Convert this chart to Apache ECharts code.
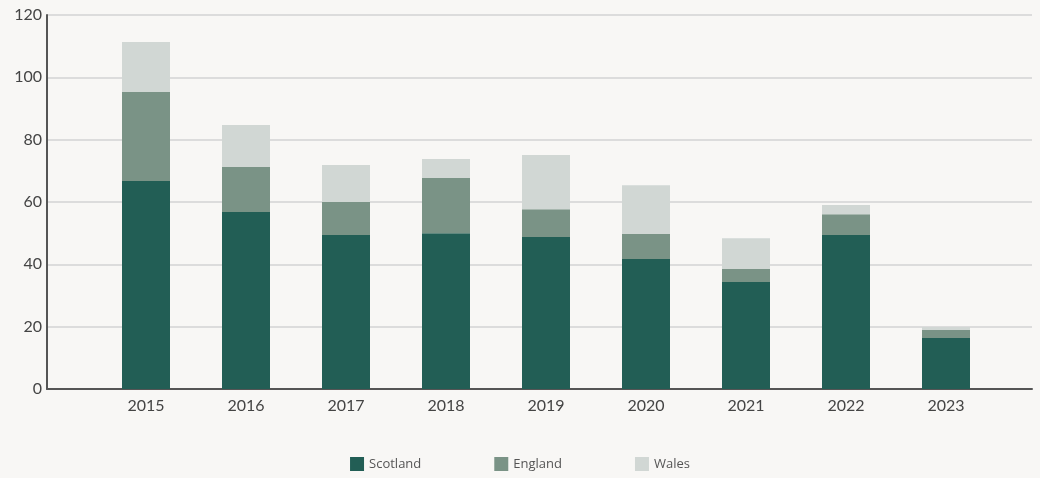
<!DOCTYPE html>
<html>
<head>
<meta charset="utf-8">
<script src="https://cdn.jsdelivr.net/npm/echarts@6/dist/echarts.min.js"></script>
<style>
  html, body { margin: 0; padding: 0; background: #f8f7f5; }
  #chart { width: 1040px; height: 478px; }
</style>
</head>
<body>
<div id="chart"></div>
<script>
// years on the x axis
var years = ['2015', '2016', '2017', '2018', '2019', '2020', '2021', '2022', '2023']
// stacked segments
var scotland = [66.7, 56.8, 49.4, 50.0, 48.8, 41.7, 34.3, 49.4, 16.4]
var england = [28.6, 14.4, 10.6, 17.7, 8.9, 8.0, 4.2, 6.7, 2.5]
var wales = [16.0, 13.5, 11.9, 6.1, 17.4, 15.7, 9.9, 2.9, 1.0]
var yTicks = [0, 20, 40, 60, 80, 100, 120]

var chart = echarts.init(document.getElementById('chart'))
var font = 'Lato, "Open Sans", sans-serif'

var option = {
  backgroundColor: '#f8f7f5',
  animation: false,
  textStyle: { fontFamily: font },
  legend: {
    bottom: 2,
    left: 'center',
    itemWidth: 14,
    itemHeight: 14,
    itemGap: 73,
    icon: 'rect',
    textStyle: { color: '#555', fontSize: 13, fontFamily: '"Open Sans", sans-serif' },
    data: ['Scotland', 'England', 'Wales']
  },
  grid: [
    // frame: axis lines + grid lines across the full width
    { left: 47, right: 8, top: 15, bottom: 89, containLabel: false },
    // bars sit in the inner band
    { left: 96, right: 44, top: 15, bottom: 89, containLabel: false }
  ],
  xAxis: [
    {
      gridIndex: 0,
      type: 'value',
      min: 0,
      max: 1,
      axisLine: { show: true, lineStyle: { color: '#555', width: 2 } },
      axisTick: { show: false },
      axisLabel: { show: false },
      splitLine: { show: false }
    },
    {
      gridIndex: 1,
      type: 'category',
      data: years,
      axisLine: { show: false },
      axisTick: { show: false },
      axisLabel: { color: '#444', fontSize: 16, margin: 9, fontFamily: font }
    }
  ],
  yAxis: [
    {
      gridIndex: 0,
      type: 'value',
      min: 0,
      max: 120,
      interval: 20,
      axisLine: { show: true, lineStyle: { color: '#555', width: 2 } },
      axisTick: { show: false },
      axisLabel: {
        color: '#444', fontSize: 16, margin: 5, fontFamily: font,
        formatter: function (v) { return yTicks.indexOf(v) >= 0 ? v : '' }
      },
      splitLine: { show: true, lineStyle: { color: '#dcdcdc', width: 2 } }
    },
    {
      gridIndex: 1,
      type: 'value',
      min: 0,
      max: 120,
      interval: 20,
      axisLine: { show: false },
      axisTick: { show: false },
      axisLabel: { show: false },
      splitLine: { show: false }
    }
  ],
  series: [
    {
      name: 'Scotland',
      type: 'bar',
      stack: 'total',
      xAxisIndex: 1,
      yAxisIndex: 1,
      barWidth: 48,
      itemStyle: { color: '#225e55' },
      data: scotland
    },
    {
      name: 'England',
      type: 'bar',
      stack: 'total',
      xAxisIndex: 1,
      yAxisIndex: 1,
      barWidth: 48,
      itemStyle: { color: '#7a9386' },
      data: england
    },
    {
      name: 'Wales',
      type: 'bar',
      stack: 'total',
      xAxisIndex: 1,
      yAxisIndex: 1,
      barWidth: 48,
      itemStyle: { color: '#d1d7d4' },
      data: wales
    }
  ]
}

chart.setOption(option)
window.addEventListener('resize', () => { chart.resize() })
</script>
</body>
</html>
